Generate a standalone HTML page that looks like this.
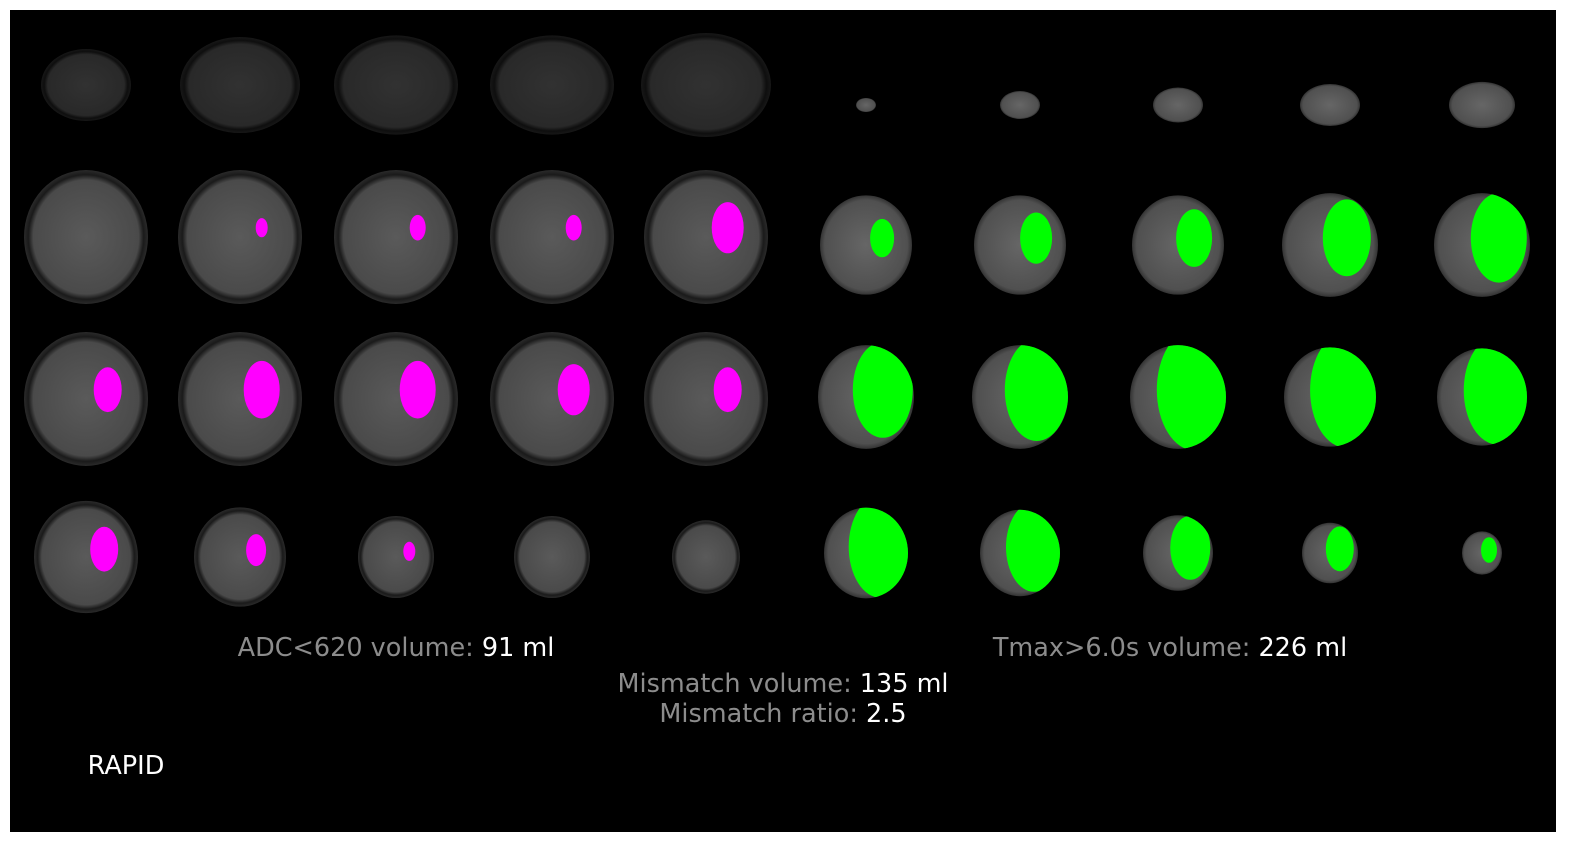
<!DOCTYPE html>
<html><head><meta charset="utf-8"><style>
body{margin:0;background:#fff;width:1570px;height:844px;overflow:hidden;font-family:"DejaVu Sans","Liberation Sans",sans-serif}
#panel{position:absolute;left:10px;top:10px;width:1546px;height:822px;background:#000}
.t{position:absolute;font-size:25.5px;color:#8c8c8c;white-space:nowrap;transform:translateX(-50%)}
.t b{font-weight:normal;color:#fff}
</style></head><body>
<div id="panel"></div>
<svg id="svg" width="1570" height="844" style="position:absolute;left:0;top:0">
<defs><radialGradient id="g1"><stop offset="0" stop-color="#5a5a5a"/><stop offset="0.85" stop-color="#4a4a4a"/><stop offset="0.93" stop-color="#1a1a1a"/><stop offset="1" stop-color="#2a2a2a"/></radialGradient>
<radialGradient id="g2"><stop offset="0" stop-color="#666"/><stop offset="0.9" stop-color="#505050"/><stop offset="1" stop-color="#333"/></radialGradient></defs>
</svg>
<div class="t" style="left:396px;top:633px">ADC&lt;620 volume: <b>91 ml</b></div>
<div class="t" style="left:1170px;top:633px">Tmax&gt;6.0s volume: <b>226 ml</b></div>
<div class="t" style="left:783px;top:669px">Mismatch volume: <b>135 ml</b></div>
<div class="t" style="left:783px;top:699px">Mismatch ratio: <b>2.5</b></div>
<div class="t" style="left:126px;top:751px;color:#fff">RAPID</div>
<script>
const leftCols=[86,240,396,552,706];
const rightCols=[866,1020,1178,1330,1482];
const leftRows=[85,237,399,557];
const rightRows=[105,245,397,553];
const leftSizes=[[45,60,62,62,65],[62,62,62,62,62],[62,62,62,62,62],[52,46,38,38,34]];
const leftLesion=[[0,0,0,0,0],[0,6,8,8,16],[14,18,18,16,14],[14,10,6,0,0]];
const rightSizes=[[10,20,25,30,33],[46,46,46,48,48],[48,48,48,46,45],[42,40,35,28,20]];
const rightLesion=[[0,0,0,0,0],[12,16,18,24,28],[30,32,38,36,34],[32,28,20,14,8]];
const svg=document.getElementById('svg');
const defs=svg.querySelector('defs');
const NS='http://www.w3.org/2000/svg';
let k=0;
function draw(cols,rows,sizes,lesions,color,side){
 rows.forEach((cy,r)=>cols.forEach((cx,c)=>{
  const rx=sizes[r][c];
  const ry=side==='l'&&r===0?rx*0.8:(side==='r'&&r===0?rx*0.7:rx*1.08);
  const e=document.createElementNS(NS,'ellipse');
  e.setAttribute('cx',cx);e.setAttribute('cy',cy);
  e.setAttribute('rx',rx);e.setAttribute('ry',ry);
  e.setAttribute('fill',side==='l'?'url(#g1)':'url(#g2)');
  if(side==='l'&&r===0)e.setAttribute('opacity','0.55');
  
  
  svg.appendChild(e);
  const L=lesions[r][c];
  if(L>0){
   const id='cp'+(k++);
   const cp=document.createElementNS(NS,'clipPath');cp.setAttribute('id',id);
   const ce=document.createElementNS(NS,'ellipse');
   ce.setAttribute('cx',cx);ce.setAttribute('cy',cy);ce.setAttribute('rx',rx);ce.setAttribute('ry',ry);
   cp.appendChild(ce);defs.appendChild(cp);
   const l=document.createElementNS(NS,'ellipse');
   l.setAttribute('cx',cx+rx*0.35);l.setAttribute('cy',cy-rx*0.15);
   l.setAttribute('rx',L);l.setAttribute('ry',L*1.6);
   l.setAttribute('fill',color);
   l.setAttribute('clip-path','url(#'+id+')');
   
   
   svg.appendChild(l);
  }
 }));
}
draw(leftCols,leftRows,leftSizes,leftLesion,'#ff00ff','l');
draw(rightCols,rightRows,rightSizes,rightLesion,'#00ff00','r');
</script>
</body></html>
